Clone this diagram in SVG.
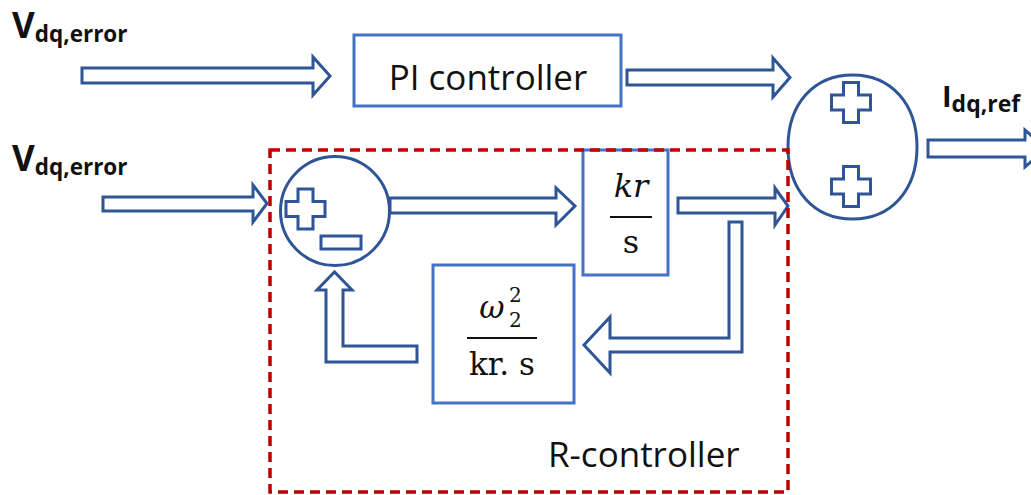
<svg xmlns="http://www.w3.org/2000/svg" xmlns:xlink="http://www.w3.org/1999/xlink" width="1031" height="495" viewBox="0 0 1031 495">
<style>
.box{fill:#fff;stroke:#4472C4;stroke-width:3}
.sum{fill:#fff;stroke:#2F5597;stroke-width:3}
.arr{fill:#fff;stroke:#2F5597;stroke-width:3;stroke-linejoin:miter}
.sign{fill:#fff;stroke:#2F5597;stroke-width:3}
.lbl{font-family:"Open Sans","Liberation Sans",sans-serif;fill:#111;font-size:35px}
.sig{font-family:"Open Sans","Liberation Sans",sans-serif;font-weight:bold;fill:#111}
.math{font-family:"DejaVu Serif","Liberation Serif",serif;fill:#111}
.bar{stroke:#111;stroke-width:2}
.dash{fill:none;stroke:#C00000;stroke-width:3.5;stroke-dasharray:10 6}
</style>
<defs>
<polygon id="plus" points="-7.5,-20 7.5,-20 7.5,-7.5 19.5,-7.5 19.5,7.5 7.5,7.5 7.5,20 -7.5,20 -7.5,7.5 -19.5,7.5 -19.5,-7.5 -7.5,-7.5"/>
</defs>
<rect width="1031" height="495" fill="#fff"/>

<g id="labels">
<text class="sig" x="12" y="38" font-size="35">V<tspan font-size="22.5" dy="4">dq,error</tspan></text>
<text class="sig" x="12" y="171" font-size="35">V<tspan font-size="22.5" dy="4">dq,error</tspan></text>
<text class="sig" x="942" y="107" font-size="29">I<tspan font-size="23" dy="5">dq,ref</tspan></text>
</g>

<g id="pi-controller">
<rect class="box" x="354" y="35" width="267" height="71"/>
<text class="lbl" x="488" y="90" text-anchor="middle">PI controller</text>
</g>

<g id="sum-out">
<path class="sum" d="M852.5,75 C891.2,75 917,103.8 917,147 C917,190.2 891.2,219 852.5,219 C813.8,219 788,190.2 788,147 C788,103.8 813.8,75 852.5,75 Z"/>
<use xlink:href="#plus" class="sign" x="851" y="102.5"/>
<use xlink:href="#plus" class="sign" x="851" y="186.5"/>
</g>

<g id="sum-r">
<circle class="sum" cx="335" cy="211" r="54.5"/>
<use xlink:href="#plus" class="sign" x="305.5" y="209"/>
<rect class="sign" x="321" y="236" width="40" height="13"/>
</g>

<g id="kr-block">
<rect class="box" x="583" y="150" width="85" height="125"/>
<text class="math" x="631" y="197" font-size="32" font-style="italic" text-anchor="middle">kr</text>
<line class="bar" x1="610" y1="217" x2="652" y2="217"/>
<text class="math" x="631" y="253" font-size="32" text-anchor="middle">s</text>
</g>

<g id="omega-block">
<rect class="box" x="433" y="265" width="141" height="138"/>
<text class="math" x="492" y="318" font-size="31" font-style="italic" text-anchor="middle">ω</text>
<text class="math" x="509" y="302" font-size="20">2</text>
<text class="math" x="509" y="327" font-size="20">2</text>
<line class="bar" x1="467" y1="338" x2="537" y2="338"/>
<text class="math" x="502" y="375" font-size="31" text-anchor="middle">kr. s</text>
</g>

<g id="connectors">
<polygon class="arr" points="82,68 313,68 313,57 330,76 313,95 313,83 82,83"/>
<polygon class="arr" points="627,70 773,70 773,58 790,77.5 773,97 773,85 627,85"/>
<polygon class="arr" points="103,197 253,197 253,185 267,203.5 253,222 253,211 103,211"/>
<polygon class="arr" points="390,198 556,198 556,188 575,206 556,225 556,213 390,213"/>
<polygon class="arr" points="678,198 775,198 775,188 788,206 775,225 775,213 678,213"/>
<polygon class="arr" points="729,222 742,222 742,352 610,352 610,373 584,345 610,317 610,338 729,338"/>
<polygon class="arr" points="417,346 417,362 326,362 326,290 317,290 334.5,272 352,290 343,290 343,346"/>
<polygon class="arr" points="928,140 1025,140 1025,130 1046,148.5 1025,167 1025,157 928,157"/>
</g>

<g id="r-controller">
<rect class="dash" x="270" y="150" width="518" height="342"/>
<text class="lbl" x="548" y="467">R-controller</text>
</g>
</svg>
